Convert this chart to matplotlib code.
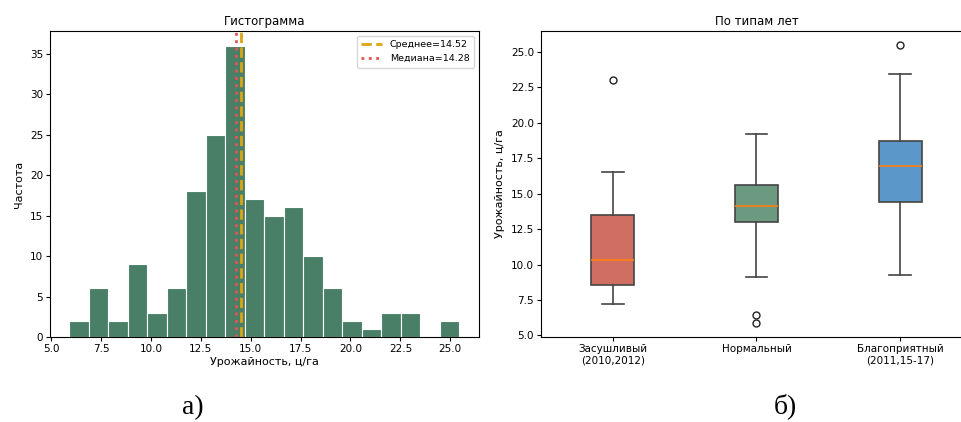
import numpy as np
import matplotlib
matplotlib.use("Agg")
import matplotlib.pyplot as plt

plt.rcParams["font.family"] = ["DejaVu Sans"]
plt.rcParams["axes.unicode_minus"] = False

# гистограмма урожайности: границы и частоты интервалов
bin_start = 5.92
bin_width = 0.977
counts = [2, 6, 2, 9, 3, 6, 18, 25, 36, 17, 15, 16, 10, 6, 2, 1, 3, 3, 0, 2]
mean_val = 14.52
median_val = 14.28

# статистика по типам лет
year_types = ["Засушливый\n(2010,2012)", "Нормальный", "Благоприятный\n(2011,15-17)"]
q1 = [8.55, 13.0, 14.41]
med = [10.32, 14.15, 16.98]
q3 = [13.49, 15.64, 18.74]
whislo = [7.19, 9.14, 9.24]
whishi = [16.55, 19.21, 23.45]
fliers = [[23.02], [6.46, 5.87], [25.5]]
box_colors = ["#d06e62", "#6b9a80", "#5b98c9"]

edges = bin_start + bin_width * np.arange(len(counts) + 1)
centers = (edges[:-1] + edges[1:]) / 2

fig = plt.figure(figsize=(9.61, 4.22), dpi=100)
ax1 = fig.add_axes([0.052, 0.2014, 0.4464, 0.7251])
ax2 = fig.add_axes([0.563, 0.2014, 0.4484, 0.7251])

# --- гистограмма ---
ax1.hist(centers, bins=edges, weights=counts, color="#4a7f67", edgecolor="white", linewidth=0.8)
ax1.axvline(mean_val, color="#dba513", linestyle="--", linewidth=2, label=f"Среднее={mean_val:.2f}")
ax1.axvline(median_val, color="#e5544a", linestyle=":", linewidth=2, label=f"Медиана={median_val:.2f}")
ax1.set_title("Гистограмма", fontsize=8.5, pad=4)
ax1.set_xlabel("Урожайность, ц/га", fontsize=8, labelpad=2)
ax1.set_ylabel("Частота", fontsize=8, labelpad=4)
ax1.set_xticks(np.arange(5, 25.1, 2.5))
ax1.set_yticks(np.arange(0, 36, 5))
ax1.tick_params(labelsize=7.5, length=3, pad=2)
ax1.legend(loc="upper right", fontsize=6.8, handlelength=2.2, borderpad=0.5, labelspacing=0.5)

# --- диаграмма размаха ---
stats = []
for i in range(len(year_types)):
    stats.append({"med": med[i], "q1": q1[i], "q3": q3[i],
                  "whislo": whislo[i], "whishi": whishi[i], "fliers": fliers[i]})
bp = ax2.bxp(stats, positions=[1, 2, 3], widths=0.3, patch_artist=True,
             boxprops=dict(edgecolor="#444444", linewidth=1.2),
             whiskerprops=dict(color="#444444", linewidth=1.2),
             capprops=dict(color="#444444", linewidth=1.2),
             medianprops=dict(color="#ff7f0e", linewidth=1.2),
             flierprops=dict(marker="o", markerfacecolor="none", markeredgecolor="#222222",
                             markersize=5, markeredgewidth=1.0))
for patch, c in zip(bp["boxes"], box_colors):
    patch.set_facecolor(c)
ax2.set_xticks([1, 2, 3])
ax2.set_xticklabels(year_types)
ax2.set_title("По типам лет", fontsize=8.5, pad=4)
ax2.set_ylabel("Урожайность, ц/га", fontsize=8, labelpad=4)
ax2.set_yticks(np.arange(5, 25.1, 2.5))
ax2.yaxis.set_major_formatter(matplotlib.ticker.FormatStrFormatter("%.1f"))
ax2.tick_params(labelsize=7.5, length=3, pad=2)
ax2.set_xlim(0.5, 3.5)

# подписи панелей
fig.text(193 / 961, 1 - 408 / 422, "а)", fontsize=20, family="Liberation Serif", ha="center", va="center")
fig.text(785 / 961, 1 - 406 / 422, "б)", fontsize=20, family="Liberation Serif", ha="center", va="center")

fig.savefig("out.png", dpi=100)
